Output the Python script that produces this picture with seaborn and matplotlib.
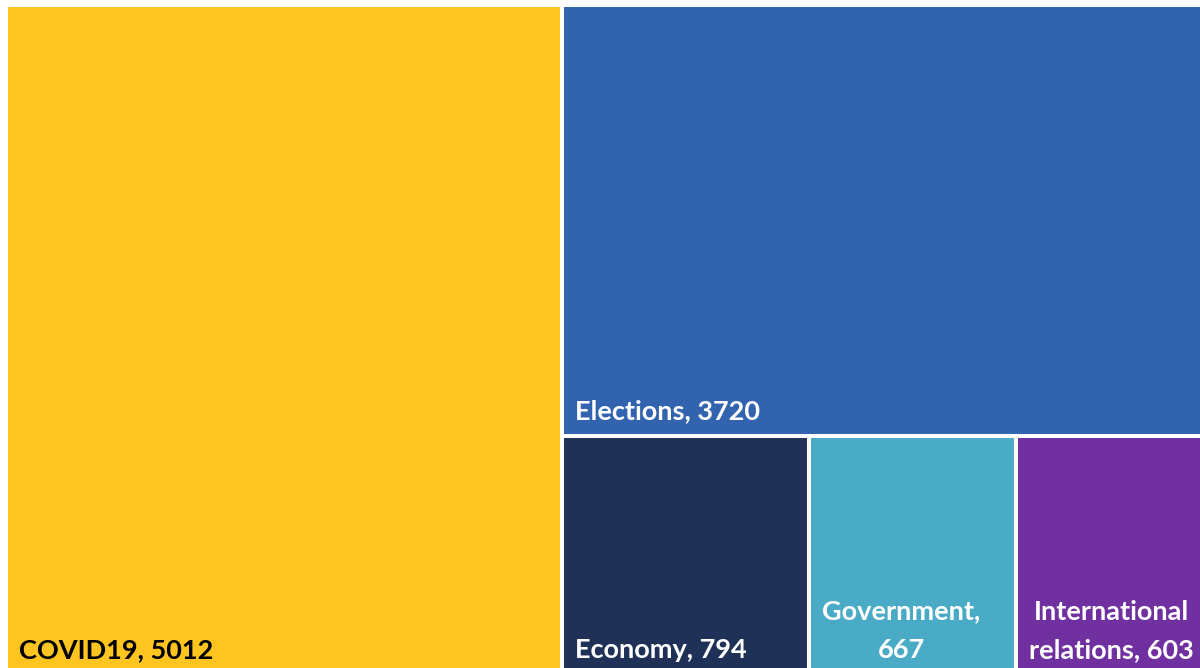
import seaborn as sns
import matplotlib.pyplot as plt

topics = ["COVID19", "Elections", "Economy", "Government", "International relations"]
counts = [5012, 3720, 794, 667, 603]
colors = ["#FEC420", "#3163AE", "#1F3157", "#4AABC6", "#7030A0"]
text_colors = ["black", "white", "white", "white", "white"]

# canvas size in pixels (treemap area)
W, H = 1198, 670


def worst(row, w):
    s = sum(row)
    return max(max(w * w * r / (s * s), (s * s) / (w * w * r)) for r in row)


def layout_row(row, x, y, dx, dy):
    # lay a row along the shorter side, return rects and leftover space
    s = sum(row)
    rects = []
    if dx >= dy:
        cw = s / dy
        yy = y + dy
        for r in row:
            h = r / cw
            yy -= h
            rects.append((x, yy, cw, h))
        return rects, (x + cw, y, dx - cw, dy)
    ch = s / dx
    xx = x
    for r in row:
        w = r / ch
        rects.append((xx, y + dy - ch, w, ch))
        xx += w
    return rects, (x, y, dx, dy - ch)


def squarify(values, x, y, dx, dy):
    total = sum(values)
    vals = [v * dx * dy / total for v in values]
    rects = []
    space = (x, y, dx, dy)
    i = 0
    while i < len(vals):
        side = min(space[2], space[3])
        row = [vals[i]]
        i += 1
        while i < len(vals) and worst(row + [vals[i]], side) <= worst(row, side):
            row.append(vals[i])
            i += 1
        r, space = layout_row(row, *space)
        rects += r
    return rects


rects = squarify(counts, 0, 0, W, H)

sns.set_theme(style="white")
plt.rcParams["font.family"] = ["Lato", "DejaVu Sans"]

fig = plt.figure(figsize=(12, 6.68), dpi=100)
ax = fig.add_axes([6 / 1200, (668 - 5 - H) / 668, W / 1200, H / 668])

xs = [r[0] for r in rects]
ys = [r[1] for r in rects]
ws = [r[2] for r in rects]
hs = [r[3] for r in rects]
ax.bar(xs, hs, width=ws, bottom=ys, align="edge", color=colors,
       edgecolor="white", linewidth=2.9)
ax.set_xlim(0, W)
ax.set_ylim(0, H)
ax.set_axis_off()

fig.canvas.draw()
renderer = fig.canvas.get_renderer()

pad_x, pad_y = 13, 17
for (x, y, w, h), name, n, tc in zip(rects, topics, counts, text_colors):
    label = f"{name}, {n}"
    t = ax.text(x + pad_x, y + pad_y, label, color=tc, fontsize=19.5,
                fontweight="bold", ha="left", va="baseline",
                multialignment="center", linespacing=1.72)
    room = w - pad_x - 4
    if t.get_window_extent(renderer).width > room:
        # greedy word wrap
        words = label.split(" ")
        lines = [words[0]]
        for wd in words[1:]:
            t.set_text(lines[-1] + " " + wd)
            if t.get_window_extent(renderer).width > room:
                lines.append(wd)
            else:
                lines[-1] = lines[-1] + " " + wd
        t.set_text("\n".join(lines))

fig.savefig("out.png", dpi=100)
